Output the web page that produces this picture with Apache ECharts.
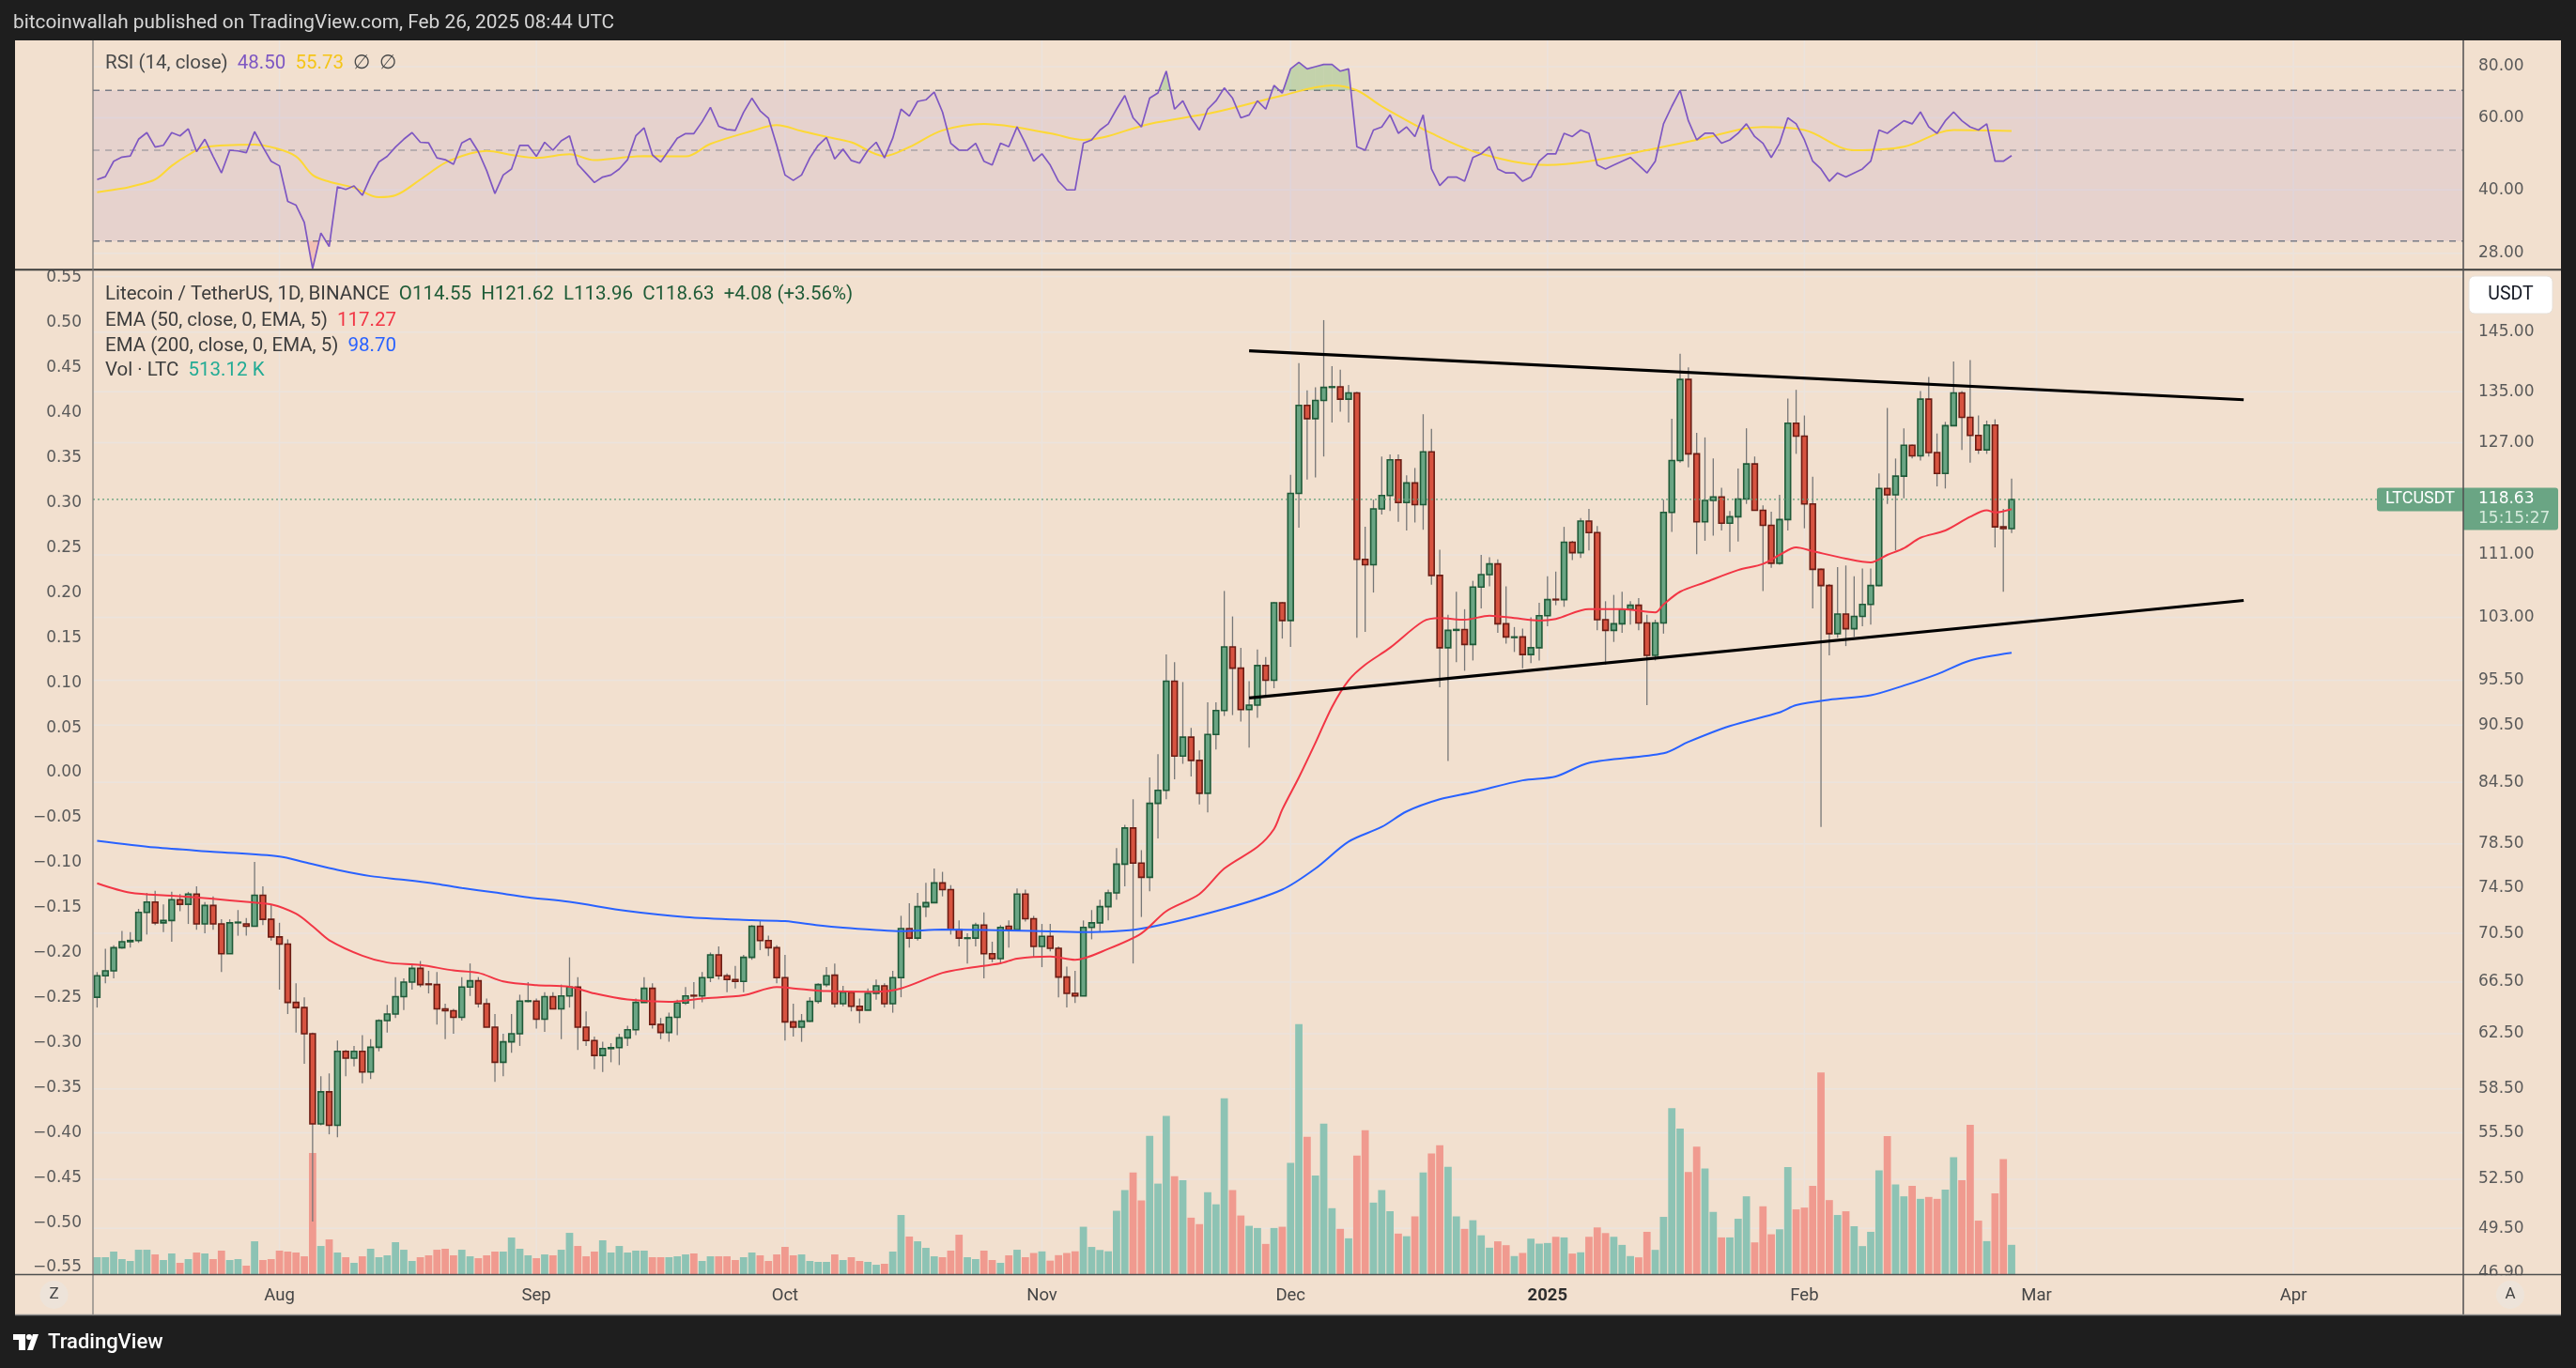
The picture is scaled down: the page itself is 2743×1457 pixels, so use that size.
<!DOCTYPE html>
<html><head><meta charset="utf-8"><title>LTCUSDT</title>
<script src="https://cdn.jsdelivr.net/npm/echarts@6.0.0/dist/echarts.min.js"></script>
<style>html,body{margin:0;padding:0;background:#1e1e1e;overflow:hidden}#chart{width:2743px;height:1457px}</style>
</head><body><div id="chart"></div>
<script>
// ---------- DATA ----------
const dayCount = 286; // Jul 10 2024 .. Apr 21 2025
const monthTickDates = ['2024-08-01','2024-09-01','2024-10-01','2024-11-01','2024-12-01','2025-01-01','2025-02-01','2025-03-01','2025-04-01'];
const monthTickLabels = ['Aug','Sep','Oct','Nov','Dec','2025','Feb','Mar','Apr'];

const opens = [65.3,67.0,67.4,69.3,69.8,69.9,72.3,73.2,71.4,71.6,
73.4,73.0,73.9,71.3,72.9,71.3,68.8,71.4,71.3,71.1,
73.8,71.7,70.2,69.6,64.9,64.5,62.5,56.1,58.3,56.0,
61.2,60.7,61.2,59.7,61.5,63.5,64.0,65.35,66.5,67.6,
66.35,66.3,64.4,64.25,63.75,66.1,66.6,64.8,63.0,60.4,
61.9,62.5,64.98,65.0,63.6,65.35,64.4,65.4,66.1,63.0,
62.0,60.9,61.4,61.47,62.2,62.8,64.9,66.0,63.2,62.6,
63.75,64.85,65.45,65.4,66.85,68.7,67.0,66.7,66.55,68.5,
71.1,69.9,69.3,66.85,63.4,63.0,63.45,64.98,66.3,67.05,
64.8,65.7,64.6,64.3,65.6,66.2,64.8,66.85,70.9,70.1,
72.8,73.15,74.9,74.3,70.8,70.08,70.1,71.2,68.8,68.4,
71.1,70.8,73.9,71.75,69.4,70.25,69.25,66.9,65.6,65.4,
71.0,71.4,72.8,74.0,76.6,80.0,76.7,75.4,82.4,83.7,
95.4,87.2,89.2,86.75,83.4,89.5,92.1,99.4,96.9,92.2,
92.7,97.2,95.5,104.8,102.6,119.5,132.8,130.7,133.6,135.7,
135.8,133.8,134.8,110.4,109.7,117.3,119.2,124.4,118.2,121.0,
117.9,125.6,108.3,99.3,101.4,101.5,99.7,106.8,108.4,109.8,
102.2,100.55,100.6,98.5,99.3,103.2,105.25,105.2,112.7,111.3,
115.6,114.0,102.7,101.4,102.2,104.0,104.5,102.3,98.4,102.3,
116.8,124.3,137.0,125.3,115.5,118.5,119.0,115.3,116.2,118.7,
123.8,117.1,115.0,109.9,115.8,130.0,128.0,118.0,109.1,107.0,
101.0,103.4,101.6,103.1,104.6,107.0,120.2,119.3,122.0,126.6,
125.0,133.8,125.5,122.4,129.6,134.8,130.9,128.1,125.9,129.7,
114.8,114.55];
const closes = [67.0,67.4,69.3,69.8,69.9,72.3,73.2,71.4,71.6,73.4,
73.0,73.9,71.3,72.9,71.3,68.8,71.4,71.45,71.1,73.8,
71.7,70.2,69.6,64.9,64.5,62.5,56.1,58.3,56.0,61.2,
60.7,61.2,59.7,61.5,63.5,64.0,65.35,66.5,67.6,66.3,
66.3,64.4,64.25,63.75,66.1,66.6,64.8,63.0,60.4,61.9,
62.5,65.0,65.02,63.6,65.35,64.4,65.4,66.1,63.0,62.0,
60.9,61.4,61.47,62.2,62.8,64.9,66.0,63.2,62.6,63.75,
64.85,65.4,65.4,66.85,68.7,67.0,66.7,66.55,68.5,71.1,
69.9,69.3,66.85,63.4,63.0,63.45,64.98,66.3,67.0,64.8,
65.7,64.6,64.3,65.6,66.2,64.8,66.85,70.9,70.1,72.8,
73.15,74.9,74.3,70.8,70.1,70.12,71.2,68.8,68.4,71.0,
70.8,73.9,71.75,69.4,70.25,69.25,66.9,65.6,65.4,71.0,
71.4,72.8,74.0,76.6,80.0,76.7,75.4,82.4,83.7,95.4,
87.2,89.2,86.75,83.4,89.5,92.1,99.4,96.9,92.2,92.7,
97.2,95.5,104.8,102.6,119.5,132.8,130.7,133.6,135.7,135.8,
133.8,134.8,110.4,109.7,117.3,119.2,124.4,118.2,121.0,117.9,
125.6,108.3,99.3,101.4,101.5,99.7,106.8,108.4,109.8,102.2,
100.6,100.6,98.5,99.3,103.2,105.2,105.2,112.7,111.3,115.6,
114.0,102.7,101.4,102.2,104.0,104.5,102.3,98.4,102.3,116.8,
124.3,137.0,125.3,115.5,118.5,119.0,115.3,116.2,118.7,123.8,
117.1,115.0,109.9,115.8,130.0,128.0,118.0,109.1,107.0,101.0,
103.4,101.6,103.1,104.6,107.0,120.2,119.3,122.0,126.6,125.0,
133.8,125.5,122.4,129.6,134.8,130.9,128.1,125.9,129.7,114.8,
114.55,118.63];
const highs = [67.3,69.2,69.5,70.7,70.6,72.6,74.0,74.2,73.0,74.1,
73.9,74.1,74.6,73.2,73.7,71.7,71.7,72.5,71.8,76.8,
74.6,73.0,71.4,70.0,66.4,65.3,62.6,59.4,59.6,62.0,
61.3,61.6,62.4,62.1,63.6,64.7,66.9,66.8,68.0,68.2,
67.4,67.3,64.8,64.4,66.9,68.0,66.9,65.2,64.0,62.5,
64.0,65.5,66.5,65.2,65.7,65.7,66.3,68.5,66.9,64.2,
62.3,61.9,61.8,62.5,63.1,65.2,66.9,66.4,63.7,64.1,
65.1,66.1,66.5,67.3,68.9,69.4,67.2,67.8,68.7,71.2,
71.6,70.3,69.5,68.7,64.8,64.0,65.3,66.4,67.7,68.0,
66.2,65.8,65.2,66.0,66.7,66.4,67.4,72.0,73.1,74.0,
74.9,76.2,75.9,74.7,71.6,70.5,71.4,72.3,69.8,71.2,
71.6,74.4,74.3,72.0,71.3,71.3,69.4,67.75,67.4,71.6,
72.5,73.4,74.3,78.1,80.3,82.8,77.9,85.0,87.4,98.5,
97.6,95.3,90.2,87.8,93.0,93.0,106.3,103.1,99.3,95.4,
99.1,98.2,104.9,104.9,122.2,139.7,135.2,135.7,147.1,139.2,
138.6,136.1,135.0,114.8,118.6,124.9,125.2,125.2,122.1,123.2,
131.4,129.1,111.7,103.3,106.2,104.0,107.6,111.0,110.7,110.4,
106.9,101.8,101.6,103.0,104.8,108.2,108.8,114.8,112.9,116.0,
117.3,114.9,105.0,105.8,106.2,105.0,105.4,103.3,102.7,118.6,
130.7,141.3,139.0,128.5,127.8,124.6,120.3,117.0,123.1,129.2,
124.9,117.8,116.9,119.3,133.9,135.3,131.2,121.9,109.2,107.2,
109.4,109.6,108.2,109.2,109.2,122.4,132.4,124.6,129.2,126.7,
135.1,137.4,128.4,130.2,140.0,135.1,140.2,131.2,130.4,130.6,
117.3,121.62];
const lows = [64.5,66.4,66.8,69.2,69.3,69.7,70.4,71.2,70.6,69.8,
72.4,71.3,70.8,70.5,70.8,67.3,68.8,70.3,70.3,71.1,
71.2,69.9,65.9,64.0,62.6,60.3,49.9,56.0,55.4,55.2,
59.4,60.1,58.9,59.2,61.2,62.6,63.7,64.3,65.9,66.1,
65.6,63.2,62.1,62.5,63.5,65.4,64.5,63.0,59.0,59.4,
61.1,61.6,64.9,62.9,62.65,64.4,62.1,64.5,61.3,61.6,
59.9,59.7,60.4,60.2,61.6,62.4,64.9,62.9,62.1,61.9,
62.4,64.7,64.4,64.9,66.5,66.7,65.7,66.0,65.7,68.3,
69.1,68.6,66.4,62.0,62.3,61.9,63.4,64.8,66.1,64.5,
64.6,64.2,63.3,64.3,65.1,64.5,64.1,65.3,69.3,69.9,
71.9,73.15,73.7,70.4,69.4,68.0,69.4,66.8,68.1,68.0,
69.3,70.7,71.5,68.5,67.7,69.0,65.3,64.5,64.85,65.4,
70.0,70.6,71.6,73.4,74.6,68.0,71.9,74.15,79.0,82.8,
84.8,86.4,85.1,82.3,81.5,87.9,91.5,91.6,90.9,88.1,
91.3,93.8,94.6,100.4,99.4,114.7,121.5,121.8,124.9,130.1,
131.8,130.1,100.5,101.2,106.1,116.5,117.0,115.5,114.3,115.4,
114.4,107.1,94.7,86.7,97.6,96.6,97.8,104.1,106.9,101.1,
99.8,98.8,96.9,97.5,97.8,101.9,104.5,104.3,110.3,110.6,
111.6,101.4,97.3,100.0,101.1,102.1,101.4,92.7,97.8,101.0,
114.1,124.0,123.3,111.1,112.9,113.6,114.3,111.4,112.8,118.0,
117.1,106.3,109.3,109.7,114.3,125.3,114.6,104.1,80.1,98.4,
100.5,99.5,100.6,101.9,102.1,106.9,118.0,111.6,118.8,124.6,
124.3,124.9,120.5,120.2,129.6,125.9,124.0,125.3,125.3,112.0,
106.2,113.96];
// volume in thousands of LTC
const volumes = [296,296,395,263,230,427,427,345,247,362,
197,263,378,362,263,411,247,263,148,575,
247,263,411,395,378,312,2121,493,608,378,
296,197,312,444,296,329,559,427,230,296,
329,427,444,329,427,312,279,329,395,395,
641,444,329,279,345,329,427,723,493,312,
395,592,378,493,378,411,411,296,296,296,
312,345,362,230,312,312,312,247,296,378,
329,230,345,477,329,345,230,214,214,345,
247,296,230,214,164,181,395,1036,658,575,
460,312,296,411,690,296,263,411,247,197,
329,427,296,370,398,236,332,370,400,830,
476,423,400,1110,1472,1782,1291,2424,1586,2771,
1714,1646,989,876,1435,1223,3080,1472,1027,846,
808,529,808,830,1948,4379,2408,1729,2635,1155,
793,627,2076,2522,1253,1472,1102,710,664,1012,
1782,2114,2257,1880,1012,793,944,680,463,574,
507,316,371,621,534,545,654,643,360,382,
654,818,719,654,512,316,294,741,425,1003,
2910,2551,1788,2235,1853,1090,643,643,970,1363,
556,1188,698,785,1875,1134,1166,1548,3532,1297,
1036,1101,839,491,741,1820,2420,1570,1363,1548,
1319,1352,1319,1482,2049,1646,2616,937,578,1417,
2017,513.12];
const rsi = [42.4,43.1,47.0,48.1,48.4,53.2,55.2,50.9,51.4,55.2,
54.2,56.4,49.6,53.2,48.3,44.0,50.0,49.8,49.3,55.5,
50.9,47.0,45.8,37.5,36.7,33.3,25.7,31.4,29.1,40.7,
40.1,40.9,38.8,43.1,46.8,48.3,50.9,53.2,55.2,52.3,
52.1,47.9,47.4,46.2,52.1,53.4,49.6,44.6,39.2,43.5,
45.0,51.4,51.4,48.3,52.3,50.0,52.7,54.2,46.2,43.9,
41.7,43.0,43.5,45.0,47.4,54.2,56.7,48.7,46.8,50.0,
53.5,54.9,54.9,58.7,63.6,57.2,56.2,55.9,61.9,67.0,
62.4,59.9,51.4,43.5,42.2,43.5,47.9,51.4,53.7,47.6,
50.3,47.2,46.5,50.0,52.3,47.9,53.5,63.0,60.6,65.8,
66.4,69.3,62,52,50,50,52,47,46,52,
51,57,52,47,49,46,42,40,40,52,
53,56,58,63,68,60,57,67,69,78,
63,66,60,56,63,66,71,67,60,61,
66,63,72,69,79,82,79,80,81,81,
78,79,51,50,56,57,61,55,57,54,
61,45,41,43,43,42,48,49,51,45,
44,44,42,43,47,49,49,55,54,56,
55,46,45,46,47,48,46,44,47,58,
64,70,59,53,55,55,52,53,55,58,
54,52,48,52,60,58,53,47,45,42,
44,43,44,45,47,56,55,57,59,58,
62,57,55,59,62,59,57,56,58,47,
47,48.5];
const rsiMaPts = [[0,39.5],[3,40.3],[5,41.2],[7,42.4],[9,45.8],[11,48.7],[13,50.9],[19,51.6],[21,50.9],[24,48.3],[26,43.5],[28,41.9],[31,40.5],[34,38.4],[36,38.8],[39,42.4],[42,46.6],[45,49.1],[47,49.8],[50,48.7],[53,47.9],[57,48.9],[60,47.3],[63,47.9],[66,48.4],[71,48.3],[74,51.8],[79,55.7],[82,57.6],[85,55.7],[88,53.9],[91,52.3],[95,48.4],[98,50.9],[102,55.9],[107,58],[115,55],[119,53],[127,58],[135,62],[143,68],[149,72],[152,70],[155,64],[161,55],[167,49],[175,46],[180,47],[187,50],[193,53],[201,57],[206,56],[212,50],[218,51],[224,56],[231,55.73]];
const ema50Pts = [[0,74.87],[4,74.03],[9,73.76],[14,73.48],[18,73.21],[21,72.99],[24,72.18],[26,71.11],[28,69.93],[32,68.64],[35,68.08],[39,67.87],[43,67.44],[46,67.24],[49,66.55],[53,66.25],[57,66.13],[60,65.6],[64,65.12],[69,64.95],[73,65.2],[78,65.45],[82,66.1],[85,65.94],[88,65.79],[94,65.74],[97,66.0],[102,67.24],[105,67.62],[109,68.01],[111,68.4],[115,68.57],[118,68.3],[122,69.2],[126,70.5],[129,72.4],[133,73.9],[136,76.2],[140,78.2],[142,79.9],[143,81.8],[145,85.0],[147,88.6],[149,92.5],[151,95.5],[153,97.3],[156,99.3],[160,102.5],[162,102.9],[165,102.7],[168,103.2],[171,102.9],[174,102.6],[176,102.8],[180,104.0],[184,104.0],[188,103.6],[189,104.6],[191,106.2],[194,107.4],[198,109.0],[201,109.8],[203,111.0],[205,112.0],[207,111.5],[211,110.5],[214,110.0],[216,111.0],[218,111.9],[220,113.3],[223,114.3],[226,116.2],[228,117.1],[229,116.8],[231,117.27]];
const ema200Pts = [[0,78.78],[7,78.15],[14,77.75],[22,77.31],[25,76.79],[29,76.08],[33,75.51],[37,75.18],[41,74.81],[44,74.45],[48,74.04],[52,73.62],[57,73.21],[64,72.42],[71,71.89],[79,71.62],[83,71.54],[87,71.19],[90,70.98],[94,70.79],[97,70.69],[102,70.82],[107,70.79],[113,70.7],[119,70.6],[126,70.9],[136,72.6],[143,74.3],[147,76.2],[151,78.7],[155,80.1],[158,81.6],[162,82.8],[166,83.5],[172,84.7],[176,85.1],[180,86.5],[189,87.5],[192,88.7],[197,90.4],[203,91.9],[205,92.7],[209,93.3],[214,93.8],[218,94.9],[222,96.2],[226,97.8],[231,98.7]];
const upperTrend = [[139,141.8],[259,133.7]];
const lowerTrend = [[139,93.5],[259,105.1]];

const priceTickLabels = [145,135,127,111,103,95.5,90.5,84.5,78.5,74.5,70.5,66.5,62.5,58.5,55.5,52.5,49.5,46.9];
const priceGridValues = [155,145,135,127,111,103,95.5,90.5,84.5,78.5,74.5,70.5,66.5,62.5,58.5,55.5,52.5,49.5];
const rsiTicks = [80,60,40,28];
const rsiLevels = [70,50,30];
const leftTicks = [0.55,0.5,0.45,0.4,0.35,0.3,0.25,0.2,0.15,0.1,0.05,0,-0.05,-0.1,-0.15,-0.2,-0.25,-0.3,-0.35,-0.4,-0.45,-0.5,-0.55];

// ---------- STYLE ----------
const BG = '#f2e0cf';
const GRIDC = '#ebe3dd';
const UP_FILL = '#6aa584', UP_LINE = '#1f5a38';
const DN_FILL = '#d75340', DN_LINE = '#6b1d14';
const WICK = '#777777';
const VOL_UP = '#8dc3b4', VOL_DN = '#f09a8f';
const AXIS_TXT = '#5a5a5a';
const AXIS_FONT = '17px "DejaVu Sans"';
const LEG_SIZE = 20.5;

const days = [];
for (let i = 0; i < dayCount; i++) {
  const d = new Date(Date.UTC(2024, 6, 10 + i));
  days.push(d.toISOString().slice(0, 10));
}
const monthIdx = monthTickDates.map(d => days.indexOf(d));
const last = closes.length - 1;

const chart = echarts.init(document.getElementById('chart'), null, {renderer: 'canvas'});

function fmtLeft(v) { const s = Math.abs(v).toFixed(2); return v < 0 ? '\u2212' + s : s; }

function gridLineSeries(xi, yi, vals) {
  return {
    type: 'custom', xAxisIndex: xi, yAxisIndex: yi, z: 0, silent: true,
    data: vals.map(v => [0, v]),
    renderItem(params, api) {
      const cs = params.coordSys;
      const y = api.coord([0, api.value(1)])[1];
      return {type: 'line', shape: {x1: cs.x, y1: y, x2: cs.x + cs.width, y2: y}, style: {stroke: GRIDC, lineWidth: 1.5}};
    }
  };
}
function labelSeries(xi, yi, vals, side, fmt) {
  return {
    type: 'custom', xAxisIndex: xi, yAxisIndex: yi, z: 1, silent: true, clip: false,
    data: vals.map(v => [0, v]),
    renderItem(params, api) {
      const cs = params.coordSys;
      const v = api.value(1);
      const y = api.coord([0, v])[1];
      const x = side === 'right' ? cs.x + cs.width + 16 : cs.x - 12;
      return {type: 'text', x: x, y: y, style: {text: fmt(v), fill: AXIS_TXT, font: AXIS_FONT, align: side === 'right' ? 'left' : 'right', verticalAlign: 'middle'}};
    }
  };
}
function monthLineSeries(xi, yi, yRef) {
  return {
    type: 'custom', xAxisIndex: xi, yAxisIndex: yi, z: 0, silent: true,
    data: monthIdx.map(i => [i, yRef]),
    renderItem(params, api) {
      const cs = params.coordSys;
      const x = api.coord([api.value(0), yRef])[0];
      return {type: 'line', shape: {x1: x, y1: cs.y, x2: x, y2: cs.y + cs.height}, style: {stroke: GRIDC, lineWidth: 1.5}};
    }
  };
}

const option = {
  animation: false,
  backgroundColor: '#1e1e1e',
  textStyle: {fontFamily: 'Roboto'},
  grid: [
    {left: 99, right: 120, top: 43.3, height: 244},
    {left: 99, right: 120, top: 287.3, height: 1069.7}
  ],
  xAxis: [
    {type: 'category', gridIndex: 0, data: days, boundaryGap: true, axisLine: {show: false}, axisTick: {show: false}, axisLabel: {show: false}, splitLine: {show: false}},
    {type: 'category', gridIndex: 1, data: days, boundaryGap: true, axisLine: {show: false}, axisTick: {show: false}, splitLine: {show: false},
      axisLabel: {
        interval: (i, v) => monthTickDates.indexOf(v) >= 0,
        formatter: v => { const k = monthTickDates.indexOf(v); const t = monthTickLabels[k]; return /^\d+$/.test(t) ? '{y|' + t + '}' : t; },
        margin: 14, color: '#454545', fontFamily: 'Roboto', fontSize: 18.5,
        rich: {y: {fontWeight: 'bold', fontSize: 18.5, color: '#2e2e2e', fontFamily: 'Roboto'}}
      }}
  ],
  yAxis: [
    {type: 'log', gridIndex: 0, min: 25.53, max: 92.6, show: false},
    {type: 'log', gridIndex: 1, min: 46.85, max: 156.26, show: false},
    {type: 'value', gridIndex: 1, min: -0.5573, max: 0.5591, show: false},
    {type: 'value', gridIndex: 1, min: 0, max: 17600, show: false}
  ],
  series: [
    // RSI pane decorations
    gridLineSeries(0, 0, rsiTicks),
    monthLineSeries(0, 0, 50),
    {
      type: 'custom', xAxisIndex: 0, yAxisIndex: 0, z: 0, silent: true,
      data: [[0, 50]],
      renderItem(params, api) {
        const cs = params.coordSys;
        const yHi = api.coord([0, rsiLevels[0]])[1], yLo = api.coord([0, rsiLevels[2]])[1];
        const ch = [{type: 'rect', shape: {x: cs.x, y: yHi, width: cs.width, height: yLo - yHi}, style: {fill: 'rgba(126,87,194,0.1)'}}];
        rsiLevels.forEach((lv, k) => {
          const y = api.coord([0, lv])[1];
          ch.push({type: 'line', shape: {x1: cs.x, y1: y, x2: cs.x + cs.width, y2: y}, style: {stroke: k === 1 ? 'rgba(120,123,134,0.55)' : '#787b86', lineWidth: 1.5, lineDash: [7, 6]}});
        });
        return {type: 'group', children: ch};
      }
    },
    labelSeries(0, 0, rsiTicks, 'right', v => v.toFixed(2)),
    {
      type: 'custom', xAxisIndex: 0, yAxisIndex: 0, z: 1, silent: true,
      data: rsi.slice(0, -1).map((v, i) => [i, v]),
      renderItem(params, api) {
        const i = api.value(0);
        const a = api.coord([i, rsi[i]]), b = api.coord([i + 1, rsi[i + 1]]);
        const out = [];
        [[rsiLevels[0], 'rgba(76,175,80,0.28)', 1], [rsiLevels[2], 'rgba(242,54,69,0.18)', -1]].forEach(([lv, col, dir]) => {
          const yl = api.coord([i, lv])[1];
          const inA = dir > 0 ? a[1] < yl : a[1] > yl;
          const inB = dir > 0 ? b[1] < yl : b[1] > yl;
          if (!inA && !inB) return;
          let pts;
          if (inA && inB) pts = [[a[0], yl], a, b, [b[0], yl]];
          else {
            const t = (yl - a[1]) / (b[1] - a[1]);
            const xc = a[0] + t * (b[0] - a[0]);
            pts = inA ? [[a[0], yl], a, [xc, yl]] : [[xc, yl], b, [b[0], yl]];
          }
          out.push({type: 'polygon', shape: {points: pts}, style: {fill: col}});
        });
        return {type: 'group', children: out};
      }
    },
    {type: 'line', xAxisIndex: 0, yAxisIndex: 0, z: 2, data: rsiMaPts, showSymbol: false, smooth: 0.35, silent: true, lineStyle: {color: '#fdd835', width: 2}},
    {type: 'line', xAxisIndex: 0, yAxisIndex: 0, z: 3, data: rsi, showSymbol: false, silent: true, lineStyle: {color: '#7e57c2', width: 1.7}},

    // main pane decorations
    gridLineSeries(1, 1, priceGridValues),
    monthLineSeries(1, 1, 100),
    labelSeries(1, 1, priceTickLabels, 'right', v => v.toFixed(2)),
    labelSeries(1, 2, leftTicks, 'left', fmtLeft),

    // volume
    {type: 'bar', xAxisIndex: 1, yAxisIndex: 3, z: 1, barWidth: '88%', silent: true,
      data: volumes.map((v, i) => ({value: v, itemStyle: {color: closes[i] >= opens[i] ? VOL_UP : VOL_DN}}))},

    // candles
    {
      type: 'custom', xAxisIndex: 1, yAxisIndex: 1, z: 2, silent: true,
      data: opens.map((o, i) => [i, o, closes[i], lows[i], highs[i]]),
      encode: {x: 0, y: [1, 2, 3, 4]},
      renderItem(params, api) {
        const i = api.value(0), o = api.value(1), c = api.value(2), l = api.value(3), h = api.value(4);
        const pO = api.coord([i, o]), pC = api.coord([i, c]), pL = api.coord([i, l]), pH = api.coord([i, h]);
        const band = api.size([1, 0])[0];
        const w = band * 0.66;
        const up = c >= o;
        const top = Math.min(pO[1], pC[1]), bot = Math.max(pO[1], pC[1]);
        return {type: 'group', children: [
          {type: 'line', shape: {x1: pO[0], y1: pH[1], x2: pO[0], y2: pL[1]}, style: {stroke: WICK, lineWidth: 1.3}},
          {type: 'rect', shape: {x: pO[0] - w / 2, y: top, width: w, height: Math.max(bot - top, 0.6)}, style: {fill: up ? UP_FILL : DN_FILL, stroke: up ? UP_LINE : DN_LINE, lineWidth: 1.6}}
        ]};
      }
    },

    // EMAs
    {type: 'line', xAxisIndex: 1, yAxisIndex: 1, z: 3, data: ema200Pts, showSymbol: false, smooth: 0.3, silent: true, lineStyle: {color: '#2962ff', width: 2}},
    {type: 'line', xAxisIndex: 1, yAxisIndex: 1, z: 3, data: ema50Pts, showSymbol: false, smooth: 0.3, silent: true, lineStyle: {color: '#f23645', width: 2}},

    // trend lines
    {type: 'line', xAxisIndex: 1, yAxisIndex: 1, z: 4, data: upperTrend, showSymbol: false, silent: true, lineStyle: {color: '#000000', width: 3.2}},
    {type: 'line', xAxisIndex: 1, yAxisIndex: 1, z: 4, data: lowerTrend, showSymbol: false, silent: true, lineStyle: {color: '#000000', width: 3.2}},

    // last price line and tags
    {
      type: 'custom', xAxisIndex: 1, yAxisIndex: 1, z: 6, silent: true, clip: false,
      data: [[last, closes[last]]],
      renderItem(params, api) {
        const cs = params.coordSys;
        const y = api.coord([api.value(0), api.value(1)])[1];
        const xr = cs.x + cs.width;
        return {type: 'group', children: [
          {type: 'line', shape: {x1: cs.x, y1: y, x2: xr, y2: y}, style: {stroke: '#5f9f7a', lineWidth: 1.2, lineDash: [2, 3]}},
          {type: 'rect', shape: {x: xr - 92, y: y - 12.5, width: 92, height: 25, r: [3, 0, 0, 3]}, style: {fill: '#6aa584'}},
          {type: 'text', x: xr - 46, y: y, style: {text: 'LTCUSDT', fill: '#ffffff', font: '18px Roboto', align: 'center', verticalAlign: 'middle'}},
          {type: 'rect', shape: {x: xr, y: y - 12.5, width: 101, height: 45, r: [0, 3, 3, 0]}, style: {fill: '#6aa584'}},
          {type: 'text', x: xr + 16, y: y, style: {text: closes[last].toFixed(2), fill: '#ffffff', font: AXIS_FONT, align: 'left', verticalAlign: 'middle'}},
          {type: 'text', x: xr + 16, y: y + 21, style: {text: '15:15:27', fill: '#d5eadc', font: AXIS_FONT, align: 'left', verticalAlign: 'middle'}}
        ]};
      }
    }
  ],
  graphic: []
};

// legend / chrome text
const chg = closes[last] - closes[last - 1];
const pct = chg / closes[last - 1] * 100;
const ohlc = 'O' + opens[last].toFixed(2) + '  H' + highs[last].toFixed(2) + '  L' + lows[last].toFixed(2) + '  C' + closes[last].toFixed(2) + '  ' + (chg >= 0 ? '+' : '\u2212') + Math.abs(chg).toFixed(2) + ' (' + (chg >= 0 ? '+' : '\u2212') + Math.abs(pct).toFixed(2) + '%)';
const ema50Last = ema50Pts[ema50Pts.length - 1][1].toFixed(2);
const ema200Last = ema200Pts[ema200Pts.length - 1][1].toFixed(2);
const volLast = volumes[last].toFixed(2) + ' K';
const rsiLast = rsi[last].toFixed(2);
const rsiMaLast = rsiMaPts[rsiMaPts.length - 1][1].toFixed(2);

function rtext(x, y, text, rich, z) {
  return {type: 'text', x: x, y: y, z: z || 100, silent: true, style: {text: text, rich: rich, verticalAlign: 'middle', align: 'left', font: LEG_SIZE + 'px Roboto', fill: '#3d3d3d'}};
}
const R = (c, extra) => Object.assign({fill: c, color: c, fontSize: LEG_SIZE, fontFamily: 'Roboto'}, extra || {});

option.graphic = [
  // frame background
  {type: 'rect', z: -10, silent: true, shape: {x: 16, y: 43, width: 2711, height: 1357}, style: {fill: BG}},
  // header
  {type: 'text', x: 14, y: 24.5, z: 100, silent: true, style: {text: 'bitcoinwallah published on TradingView.com, Feb 26, 2025 08:44 UTC', fill: '#d6d6d6', font: '20.8px Roboto', verticalAlign: 'middle'}},
  // separators
  {type: 'line', z: 90, silent: true, shape: {x1: 16, y1: 287.3, x2: 2727, y2: 287.3}, style: {stroke: '#3c3c3c', lineWidth: 2}},
  {type: 'line', z: 90, silent: true, shape: {x1: 99, y1: 43, x2: 99, y2: 1400}, style: {stroke: '#777777', lineWidth: 1.2}},
  {type: 'line', z: 90, silent: true, shape: {x1: 2623, y1: 43, x2: 2623, y2: 1400}, style: {stroke: '#4f4f4f', lineWidth: 1.5}},
  {type: 'line', z: 90, silent: true, shape: {x1: 16, y1: 1357.5, x2: 2727, y2: 1357.5}, style: {stroke: '#4f4f4f', lineWidth: 1.5}},
  {type: 'rect', z: 85, silent: true, shape: {x: 2624, y: 1358.3, width: 102, height: 41}, style: {fill: BG}},
  {type: 'line', z: 90, silent: true, shape: {x1: 16, y1: 1400.5, x2: 2727, y2: 1400.5}, style: {stroke: '#8a8a8a', lineWidth: 1.5}},
  // Z / A buttons
  {type: 'circle', z: 95, silent: true, shape: {cx: 57.5, cy: 1379, r: 15}, style: {fill: '#ede3d9'}},
  {type: 'text', x: 57.5, y: 1379, z: 96, silent: true, style: {text: 'Z', fill: '#444', font: '17px Roboto', align: 'center', verticalAlign: 'middle'}},
  {type: 'circle', z: 95, silent: true, shape: {cx: 2673, cy: 1379, r: 15}, style: {fill: '#ede3d9'}},
  {type: 'text', x: 2673, y: 1379, z: 96, silent: true, style: {text: 'A', fill: '#444', font: '17px Roboto', align: 'center', verticalAlign: 'middle'}},
  // USDT box
  {type: 'rect', z: 95, silent: true, shape: {x: 2629, y: 294, width: 89, height: 40, r: 6}, style: {fill: '#ffffff', stroke: '#e6e0da', lineWidth: 1}},
  {type: 'text', x: 2673.5, y: 314, z: 96, silent: true, style: {text: 'USDT', fill: '#131722', font: '19.5px Roboto', align: 'center', verticalAlign: 'middle'}},
  // legends
  rtext(112, 67.5, '{a|RSI (14, close)}  {p|' + rsiLast + '}  {y|' + rsiMaLast + '}  {a|\u2205}  {a|\u2205}', {a: R('#4a4a4a'), p: R('#7e57c2'), y: R('#f5c518')}),
  rtext(112, 314, '{a|Litecoin / TetherUS, 1D, BINANCE}  {g|' + ohlc + '}', {a: R('#3d3d3d'), g: R('#1f5b37')}),
  rtext(112, 342, '{a|EMA (50, close, 0, EMA, 5)}  {r|' + ema50Last + '}', {a: R('#3d3d3d'), r: R('#f23645')}),
  rtext(112, 368.5, '{a|EMA (200, close, 0, EMA, 5)}  {b|' + ema200Last + '}', {a: R('#3d3d3d'), b: R('#2962ff')}),
  rtext(112, 395, '{a|Vol \u00b7 LTC}  {t|' + volLast + '}', {a: R('#3d3d3d'), t: R('#22ab94')}),
  // TradingView logo (bottom)
  {type: 'rect', z: 100, silent: true, shape: {x: 14, y: 1421, width: 13, height: 6}, style: {fill: '#ffffff'}},
  {type: 'rect', z: 100, silent: true, shape: {x: 20, y: 1421, width: 7, height: 17}, style: {fill: '#ffffff'}},
  {type: 'circle', z: 100, silent: true, shape: {cx: 31, cy: 1424, r: 3}, style: {fill: '#ffffff'}},
  {type: 'polygon', z: 100, silent: true, shape: {points: [[35, 1421], [41, 1421], [35, 1438], [29, 1438]]}, style: {fill: '#ffffff'}},
  {type: 'text', x: 51, y: 1430, z: 100, silent: true, style: {text: 'TradingView', fill: '#ffffff', font: '500 22px Roboto', verticalAlign: 'middle'}}
];

chart.setOption(option);
</script>
</body></html>
